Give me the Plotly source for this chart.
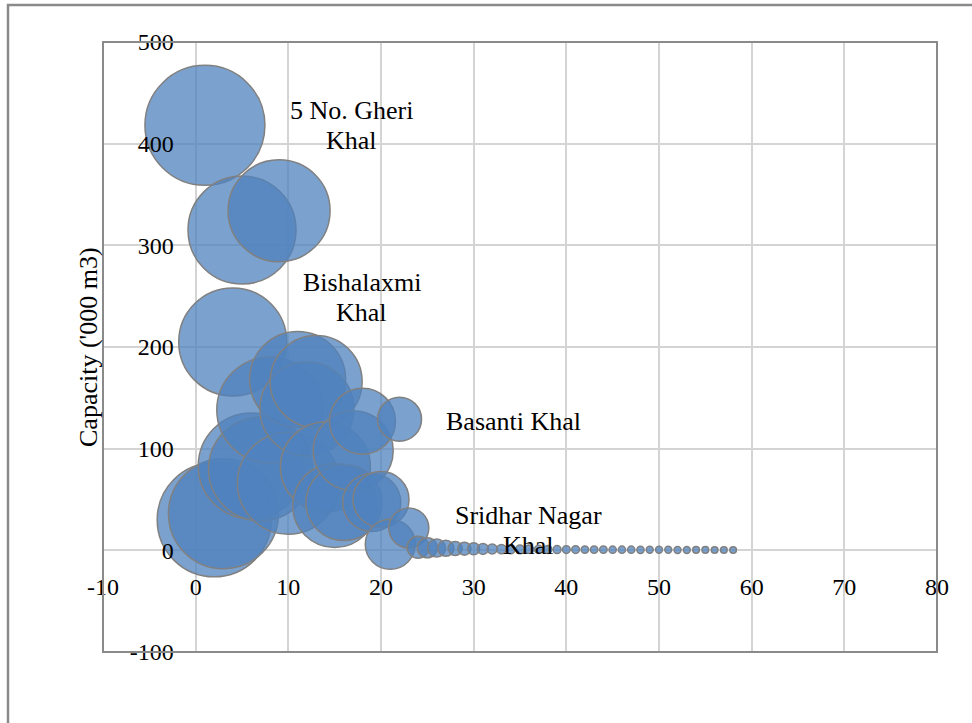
import plotly.graph_objects as go

# Canal index (x), storage capacity in '000 m3 (y) and bubble size per canal
canal_index = list(range(1, 59))
capacity = [
    418, 30, 36, 205, 315, 83, 80, 138, 334, 66,
    168, 139, 166, 82, 44, 47, 98, 127, 47, 50,
    6, 129, 22,
    3.0, 2.5, 2.2, 2.0, 1.8, 1.6, 1.5, 1.4, 1.3, 1.2,
    1.1, 1.0, 1.0, 0.9, 0.9, 0.8, 0.8, 0.8, 0.7, 0.7,
    0.7, 0.6, 0.6, 0.6, 0.5, 0.5, 0.5, 0.5, 0.4, 0.4,
    0.4, 0.4, 0.3, 0.3, 0.3,
]
bubble_size = [
    3600, 3250, 3025, 2916, 2916, 2809, 2704, 2809, 2601, 2601,
    2304, 2209, 2116, 2025, 1764, 1444, 1600, 1089, 841, 784,
    625, 484, 400,
    121, 100, 81, 64, 49, 42, 36, 30, 25, 22,
    20, 19, 18, 17, 16, 16, 15, 15, 14, 14,
    14, 13, 13, 13, 13, 12, 12, 12, 12, 12,
    11, 11, 11, 11, 11,
]

# Named canals labelled on the chart: (text, x, y)
label_text = ["5 No. Gheri<br>Khal", "Bishalaxmi<br>Khal", "Basanti Khal", "Sridhar Nagar<br>Khal"]
label_x = [16.8, 17.9, 34.3, 35.9]
label_y = [418, 249, 127, 20]

y_title = "Capacity ('000 m3)"

x_range = [-10, 80]
y_range = [-100, 500]
x_ticks = [-10, 0, 10, 20, 30, 40, 50, 60, 70, 80]
x_tick_text = ["-10", "0", "10", "20", "30", "40", "50", "60", "70", "80"]
y_ticks = [-100, 0, 100, 200, 300, 400, 500]
y_tick_text = ["-100", "0", "100", "200", "300", "400", "500"]

SERIF = "Liberation Serif, Times New Roman, serif"
MAX_DIAMETER = 120
LINE_GAP = 30  # px between lines of a two-line label

MARGIN_L, MARGIN_R, MARGIN_T, MARGIN_B = 103, 35, 42, 71
PLOT_W = 972 - MARGIN_L - MARGIN_R
PLOT_H = 723 - MARGIN_T - MARGIN_B

fig = go.Figure()
fig.add_trace(go.Scatter(
    x=canal_index,
    y=capacity,
    mode="markers",
    marker=dict(
        size=bubble_size,
        sizemode="area",
        sizeref=2.0 * max(bubble_size) / (MAX_DIAMETER ** 2),
        color="rgba(79,129,189,0.75)",
        opacity=1,
        line=dict(color="rgb(128,128,128)", width=1.5),
    ),
    showlegend=False,
    hoverinfo="x+y",
))

for t, lx, ly in zip(label_text, label_x, label_y):
    lines = t.split("<br>")
    n = len(lines)
    for i, line in enumerate(lines):
        fig.add_annotation(x=lx, y=ly, text=line, showarrow=False,
                           yshift=((n - 1) / 2 - i) * LINE_GAP,
                           font=dict(family=SERIF, size=26, color="black"),
                           xanchor="center", yanchor="middle")

# vertical axis title, set in the left margin
fig.add_annotation(xref="paper", yref="paper",
                   x=(88 - MARGIN_L) / PLOT_W, y=0.5,
                   text=y_title, textangle=-90, showarrow=False,
                   xanchor="center", yanchor="middle",
                   font=dict(family=SERIF, size=26, color="black"))

# axes cross at zero, so tick labels sit beside the zero lines
x_cross = (0 - y_range[0]) / (y_range[1] - y_range[0])
y_cross = (0 - x_range[0]) / (x_range[1] - x_range[0])

fig.update_layout(
    width=972, height=723,
    margin=dict(l=MARGIN_L, r=MARGIN_R, t=MARGIN_T, b=MARGIN_B),
    paper_bgcolor="white", plot_bgcolor="white",
    font=dict(family=SERIF, size=24, color="black"),
    xaxis=dict(
        range=x_range, tickvals=x_ticks, ticktext=x_tick_text,
        showgrid=True, gridcolor="#d4d4d4", gridwidth=2,
        zeroline=False, showline=False, ticks="",
        anchor="free", position=x_cross,
        tickfont=dict(family=SERIF, size=24, color="black"),
        ticklabelstandoff=20,
    ),
    yaxis=dict(
        range=y_range, tickvals=y_ticks, ticktext=y_tick_text,
        showgrid=True, gridcolor="#d4d4d4", gridwidth=2,
        zeroline=False, showline=False, ticks="",
        anchor="free", position=y_cross,
        tickfont=dict(family=SERIF, size=24, color="black"),
        ticklabelstandoff=22,
    ),
    shapes=[
        # plot area frame
        dict(type="rect", xref="paper", yref="paper", x0=0, x1=1, y0=0, y1=1,
             line=dict(color="#8a8a8a", width=2), layer="above"),
        # chart area frame
        dict(type="rect", xref="paper", yref="paper",
             x0=(8 - MARGIN_L) / PLOT_W, x1=(985 - MARGIN_L) / PLOT_W,
             y0=(PLOT_H + MARGIN_T - 740) / PLOT_H, y1=(PLOT_H + MARGIN_T - 5) / PLOT_H,
             line=dict(color="#8a8a8a", width=2.5), layer="above"),
    ],
)

fig.write_html("out.html")
